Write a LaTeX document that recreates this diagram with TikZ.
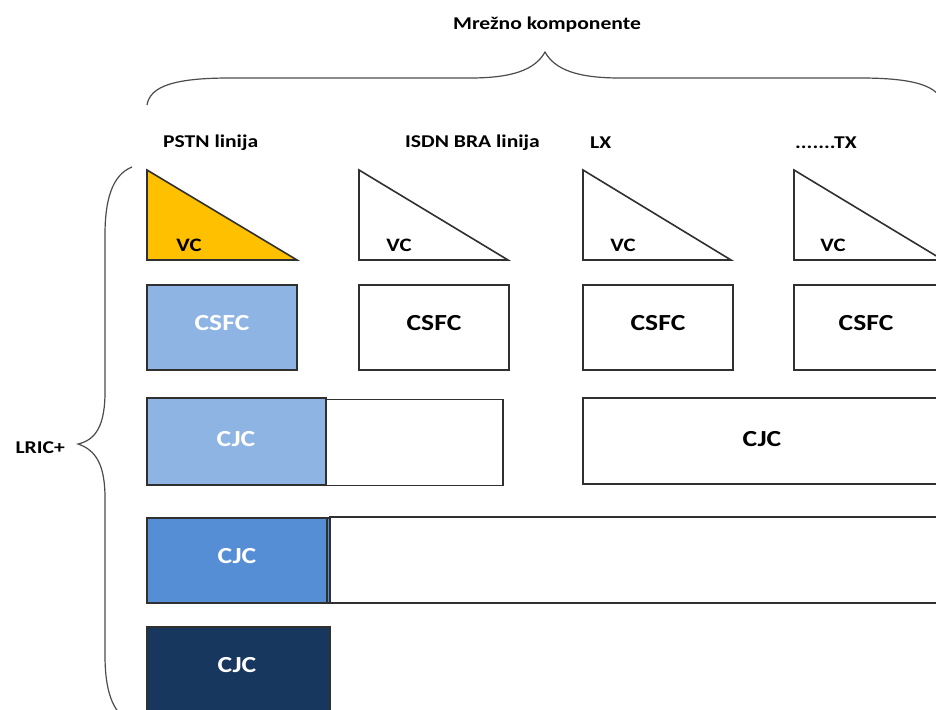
\documentclass[tikz,border=0pt]{standalone}
\usepackage{fontspec}
\setmainfont{Carlito}
\usepackage{graphicx}
\newcommand\strtxt[1]{\scalebox{1.2}[1]{#1}}
\definecolor{cyel}{HTML}{FFC000}
\definecolor{clb}{HTML}{8EB4E3}
\definecolor{cmb}{HTML}{558ED5}
\definecolor{cnv}{HTML}{17375E}
\definecolor{cedge}{HTML}{303030}
\begin{document}
\begin{tikzpicture}[x=1pt,y=-1pt,
  lbl/.style={inner sep=0pt, anchor=west, font=\fontsize{18}{20}\selectfont\bfseries},
  vclbl/.style={inner sep=0pt, font=\fontsize{19}{21}\selectfont\bfseries},
  shp/.style={draw=cedge, line width=1.6pt},
  boxnode/.style={shp, inner sep=0pt},
  boxtxt/.style={inner sep=0pt, font=\fontsize{23}{25}\selectfont\bfseries},
  brace/.style={draw=black!70, line width=1.2pt}]
\useasboundingbox (0,0) rectangle (936,709);
\clip (0,0) rectangle (936,709);
\fill[white] (0,0) rectangle (936,709);

% title and top brace
\node[inner sep=0pt, font=\fontsize{18}{20}\selectfont\bfseries] (title) at (547,25) {\strtxt{Mrežno komponente}};
\coordinate (tbl) at (147,105);
\coordinate (tbt) at (545,52);
\coordinate (tbr) at (943,105);
\draw[brace] (tbl) .. controls (150,86) and (175,78) .. (230,78) -- (470,78)
  .. controls (512,78) and (535,70) .. (tbt)
  .. controls (555,70) and (578,78) .. (620,78) -- (860,78)
  .. controls (915,78) and (940,86) .. (tbr);

% left brace
\node[inner sep=0pt, anchor=east, font=\fontsize{18}{20}\selectfont\bfseries] (lric) at (65,448) {\strtxt{LRIC+}};
\coordinate (lbt) at (132,167);
\coordinate (lbm) at (78,444);
\coordinate (lbb) at (130,722);
\draw[brace] (lbt) .. controls (112,175) and (105,200) .. (105,235) -- (105,392)
  .. controls (105,425) and (96,440) .. (lbm)
  .. controls (96,450) and (105,465) .. (105,498) -- (105,655)
  .. controls (105,690) and (112,712) .. (lbb);

% column labels
\node[lbl] (l1) at (163,143) {\strtxt{PSTN linija}};
\node[lbl] (l2) at (405,143) {\strtxt{ISDN BRA linija}};
\node[lbl] (l3) at (590,143) {\strtxt{LX}};
\node[lbl] (l4) at (795,143) {\strtxt{.......TX}};

% triangles
\draw[shp, fill=cyel] (147,170) -- (147,260) -- (297,260) -- cycle;
\draw[shp, fill=white] (359,170) -- (359,260) -- (508,260) -- cycle;
\draw[shp, fill=white] (583,170) -- (583,260) -- (731,260) -- cycle;
\draw[shp, fill=white] (794,170) -- (794,260) -- (943,260) -- cycle;
\node[vclbl] (vc1) at (189,245) {\strtxt{VC}};
\node[vclbl] (vc2) at (399,245) {\strtxt{VC}};
\node[vclbl] (vc3) at (623,245) {\strtxt{VC}};
\node[vclbl] (vc4) at (833,245) {\strtxt{VC}};

% CSFC row
\node[boxnode, fill=clb, minimum width=150pt, minimum height=85pt] (cs1) at (222,327.5) {};
\node[boxnode, fill=white, minimum width=150pt, minimum height=85pt] (cs2) at (434,327.5) {};
\node[boxnode, fill=white, minimum width=150pt, minimum height=85pt] (cs3) at (658,327.5) {};
\node[boxnode, fill=white, minimum width=150pt, minimum height=85pt] (cs4) at (869,327.5) {};
\node[boxtxt, text=white] (cs1t) at (222,323) {\strtxt{CSFC}};
\node[boxtxt] (cs2t) at (434,323) {\strtxt{CSFC}};
\node[boxtxt] (cs3t) at (658,323) {\strtxt{CSFC}};
\node[boxtxt] (cs4t) at (866,323) {\strtxt{CSFC}};

% CJC row 3
\node[boxnode, fill=clb, minimum width=179pt, minimum height=87pt] (cj1) at (236.5,441.5) {};
\node[boxtxt, text=white] (cj1t) at (236,439) {\strtxt{CJC}};
\node[boxnode, fill=white, minimum width=177pt, minimum height=86pt] (cj1b) at (414.5,442.5) {};
\node[boxnode, fill=white, minimum width=380pt, minimum height=86pt] (cj1c) at (773,441) {};
\node[boxtxt] (cj1ct) at (762,439) {\strtxt{CJC}};

% CJC row 4
\node[boxnode, fill=cmb, minimum width=183pt, minimum height=85pt] (cj2) at (238.5,560.5) {};
\node[boxtxt, text=white] (cj2t) at (237,556) {\strtxt{CJC}};
\draw[draw=cedge, line width=1.2pt] (327,518) -- (327,603);
\node[boxnode, fill=white, minimum width=640pt, minimum height=86pt] (cj2b) at (650,560) {};

% CJC row 5
\node[boxnode, fill=cnv, minimum width=183pt, minimum height=100pt] (cj3) at (238.5,677) {};
\node[boxtxt, text=white] (cj3t) at (237,665) {\strtxt{CJC}};
\end{tikzpicture}
\end{document}
